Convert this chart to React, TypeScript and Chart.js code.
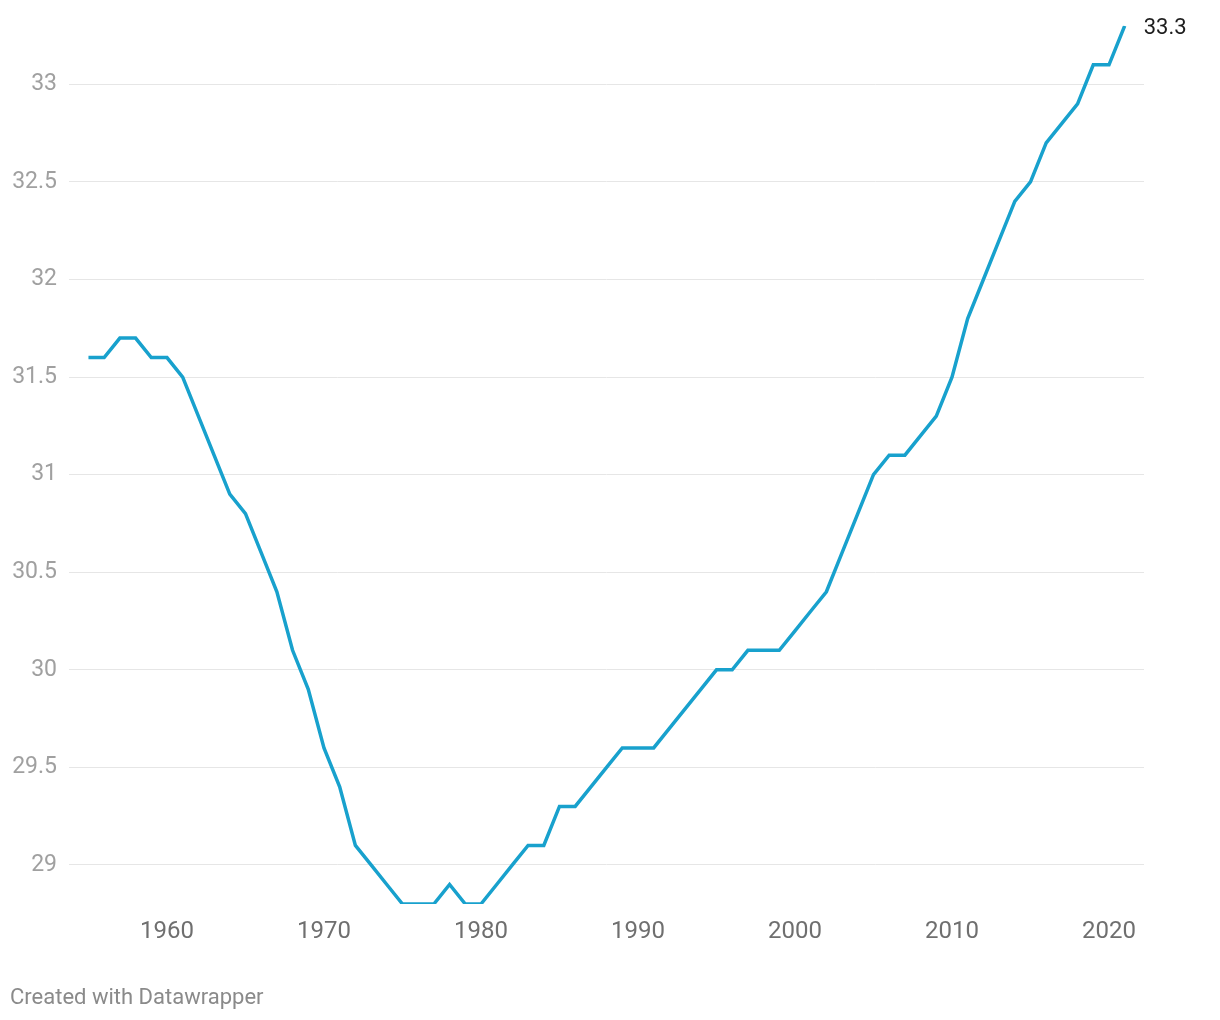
import React, { useEffect, useRef } from "react";
import { Chart, registerables } from "chart.js";

Chart.register(...registerables);

const years: number[] = [
  1955, 1956, 1957, 1958, 1959, 1960, 1961, 1962, 1963, 1964, 1965, 1966, 1967, 1968, 1969,
  1970, 1971, 1972, 1973, 1974, 1975, 1976, 1977, 1978, 1979, 1980, 1981, 1982, 1983, 1984,
  1985, 1986, 1987, 1988, 1989, 1990, 1991, 1992, 1993, 1994, 1995, 1996, 1997, 1998, 1999,
  2000, 2001, 2002, 2003, 2004, 2005, 2006, 2007, 2008, 2009, 2010, 2011, 2012, 2013, 2014,
  2015, 2016, 2017, 2018, 2019, 2020, 2021,
];

const values: number[] = [
  31.6, 31.6, 31.7, 31.7, 31.6, 31.6, 31.5, 31.3, 31.1, 30.9, 30.8, 30.6, 30.4, 30.1, 29.9,
  29.6, 29.4, 29.1, 29.0, 28.9, 28.8, 28.8, 28.8, 28.9, 28.8, 28.8, 28.9, 29.0, 29.1, 29.1,
  29.3, 29.3, 29.4, 29.5, 29.6, 29.6, 29.6, 29.7, 29.8, 29.9, 30.0, 30.0, 30.1, 30.1, 30.1,
  30.2, 30.3, 30.4, 30.6, 30.8, 31.0, 31.1, 31.1, 31.2, 31.3, 31.5, 31.8, 32.0, 32.2, 32.4,
  32.5, 32.7, 32.8, 32.9, 33.1, 33.1, 33.3,
];

const xTicks: number[] = [1960, 1970, 1980, 1990, 2000, 2010, 2020];
const yTicks: number[] = [29, 29.5, 30, 30.5, 31, 31.5, 32, 32.5, 33];
const footerText = "Created with Datawrapper";

const FONT = "Roboto, 'Noto Sans', sans-serif";

export default function App() {
  const ref = useRef<HTMLCanvasElement | null>(null);

  useEffect(() => {
    document.body.style.margin = "0";
    const canvas = ref.current;
    if (!canvas) return;

    const overlay = {
      id: "overlay",
      afterDraw(chart: any) {
        const ctx = chart.ctx;
        const xs = chart.scales.x;
        const ys = chart.scales.y;
        const lastX = years[years.length - 1];
        const lastY = values[values.length - 1];
        ctx.save();
        ctx.font = `22px ${FONT}`;
        ctx.fillStyle = "#1d1d1d";
        ctx.textAlign = "left";
        ctx.textBaseline = "middle";
        ctx.fillText(String(lastY), xs.getPixelForValue(lastX) + 19, ys.getPixelForValue(lastY) + 3);
        ctx.font = `22px ${FONT}`;
        ctx.fillStyle = "#8a8a8a";
        ctx.fillText(footerText, 10, 998);
        ctx.restore();
      },
    };

    const chart = new Chart(canvas, {
      type: "line",
      data: {
        datasets: [
          {
            data: years.map((y, i) => ({ x: y, y: values[i] })),
            borderColor: "#18a1cd",
            borderWidth: 3.5,
            pointRadius: 0,
            tension: 0,
            fill: false,
          },
        ],
      },
      options: {
        animation: false,
        responsive: false,
        events: [],
        layout: { padding: { top: 22, right: 76, bottom: 0, left: 0 } },
        plugins: { legend: { display: false }, tooltip: { enabled: false } },
        scales: {
          x: {
            type: "linear",
            min: 1953.76,
            max: 2022.23,
            afterBuildTicks: (s: any) => {
              s.ticks = xTicks.map((v) => ({ value: v }));
            },
            afterFit: (s: any) => {
              s.height = 116;
            },
            grid: { display: false, drawTicks: false },
            border: { display: false },
            ticks: {
              padding: 14,
              color: "#6f6f6f",
              font: { family: FONT, size: 24 },
              maxRotation: 0,
              autoSkip: false,
              callback: (v: any) => String(v),
            },
          },
          y: {
            type: "linear",
            min: 28.8,
            max: 33.3,
            afterBuildTicks: (s: any) => {
              s.ticks = yTicks.map((v) => ({ value: v }));
            },
            afterFit: (s: any) => {
              s.width = 69;
            },
            grid: { color: "#e6e6e6", lineWidth: 1, drawTicks: false },
            border: { display: false },
            ticks: {
              padding: 12,
              color: "#a0a0a0",
              font: { family: FONT, size: 23 },
              autoSkip: false,
              callback: (v: any) => String(v),
            },
          },
        },
      },
      plugins: [overlay],
    });

    return () => chart.destroy();
  }, []);

  return (
    <div style={{ position: "relative", width: 1220, height: 1020 }}>
      <canvas ref={ref} width={1220} height={1020} style={{ display: "block" }} />
    </div>
  );
}
